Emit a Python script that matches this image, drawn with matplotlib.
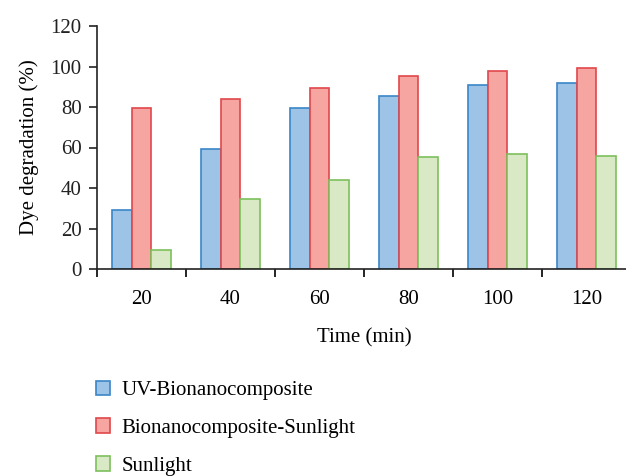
import numpy as np
import matplotlib.pyplot as plt
from matplotlib.patches import Patch

times = ["20", "40", "60", "80", "100", "120"]
uv_bio = [29.1, 59.3, 79.3, 85.4, 91.0, 91.9]
bio_sun = [79.3, 84.0, 89.2, 95.1, 97.9, 99.3]
sunlight = [9.2, 34.4, 43.8, 55.1, 56.9, 56.0]

series = [
    ("UV-Bionanocomposite", uv_bio, "#9dc3e6", "#3a86c8"),
    ("Bionanocomposite-Sunlight", bio_sun, "#f6a5a0", "#e0474c"),
    ("Sunlight", sunlight, "#d9e9c6", "#7dbf5c"),
]

plt.rcParams['font.family'] = ['Liberation Serif', 'DejaVu Serif']

fig = plt.figure(figsize=(6.26, 4.76), dpi=100)
ax = fig.add_axes([97 / 626, 207 / 476, 534 / 626, 243 / 476])

x = np.arange(len(times))
w = 0.22
for i, (name, vals, fc, ec) in enumerate(series):
    ax.bar(x + (i - 1) * w, vals, width=w, color=fc, edgecolor=ec, linewidth=1.2, label=name)

ax.set_xlim(-0.5, len(times) - 0.5)
ax.set_ylim(0, 120)
ax.set_yticks(range(0, 121, 20))
ax.set_xticks(x)
ax.set_xticklabels(times)
ax.set_xticks(np.arange(-0.5, len(times) - 0.5, 1), minor=True)
ax.tick_params(axis='x', which='major', length=0, pad=15, labelsize=15)
ax.tick_params(axis='x', which='minor', length=6, width=1.2, direction='out')
ax.tick_params(axis='y', length=6, width=1.2, labelsize=15, colors='#222222', pad=5)
ax.spines['top'].set_visible(False)
ax.spines['right'].set_visible(False)
for s in ['left', 'bottom']:
    ax.spines[s].set_linewidth(1.2)
    ax.spines[s].set_color('#222222')

ax.set_ylabel("Dye degradation (%)", fontsize=15, labelpad=8)
ax.set_xlabel("Time (min)", fontsize=15, labelpad=14)

handles = [Patch(facecolor=fc, edgecolor=ec, linewidth=1.2) for _, _, fc, ec in series]
labels = [name for name, _, _, _ in series]
fig.legend(handles, labels, loc='upper left', bbox_to_anchor=(77 / 626, 1 - 362 / 476),
           frameon=False, fontsize=15, handlelength=0.7, handleheight=0.7,
           handletextpad=0.55, labelspacing=0.87)

fig.savefig("out.png", dpi=100)
